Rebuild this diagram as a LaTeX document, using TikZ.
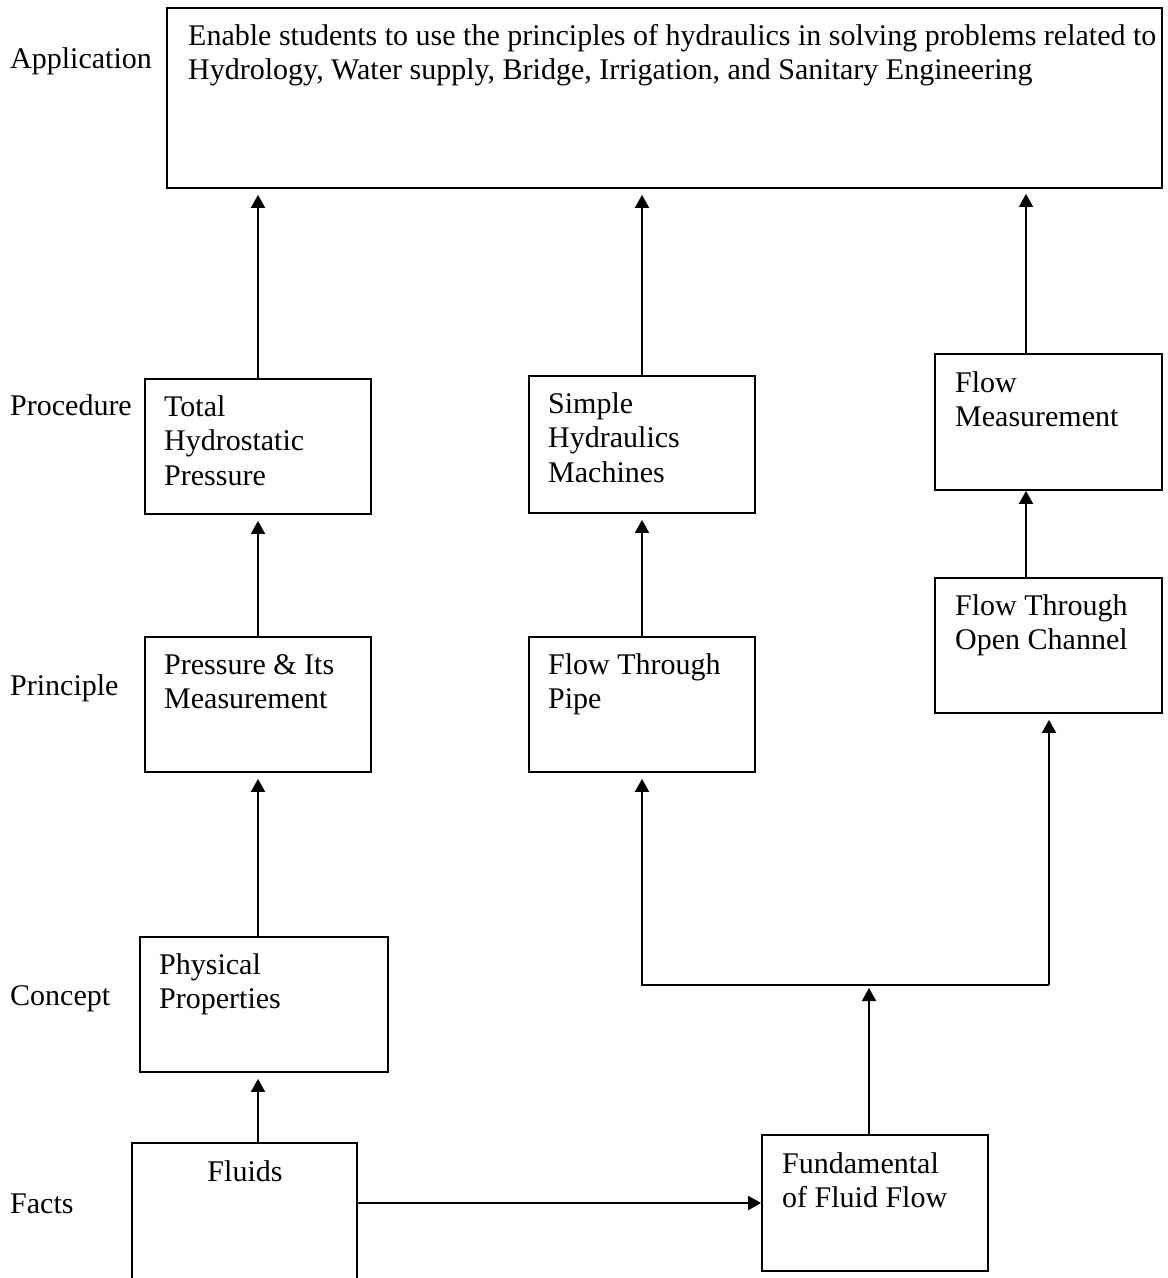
\documentclass[tikz,border=0pt]{standalone}
\usepackage{fontspec}
\setmainfont{Liberation Serif}
\usetikzlibrary{arrows.meta}
\begin{document}
\begin{tikzpicture}[x=1pt,y=-1pt,
  box/.style={draw, line width=1.8pt, inner sep=0pt},
  txt/.style={anchor=base west, inner sep=0pt, font=\fontsize{30}{34.5}\selectfont},
  arr/.style={line width=1.8pt, -{Triangle[length=13pt,width=14pt]}},
  ln/.style={line width=1.8pt}]
\clip (0,0) rectangle (1168,1278);
\fill[white] (0,0) rectangle (1168,1278);
% boxes
\node[box, minimum width=995pt, minimum height=180pt] (app) at (664.5,98) {};
\node[box, minimum width=226pt, minimum height=135pt] (tot) at (258,446.5) {};
\node[box, minimum width=226pt, minimum height=137pt] (shm) at (642,444.5) {};
\node[box, minimum width=227pt, minimum height=136pt] (fm) at (1048.5,422) {};
\node[box, minimum width=226pt, minimum height=135pt] (pim) at (258,704.5) {};
\node[box, minimum width=226pt, minimum height=135pt] (ftp) at (642,704.5) {};
\node[box, minimum width=227pt, minimum height=135pt] (ftoc) at (1048.5,645.5) {};
\node[box, minimum width=248pt, minimum height=135pt] (pp) at (264,1004.5) {};
\node[box, minimum width=225pt, minimum height=157pt] (fl) at (244.5,1221.5) {};
\node[box, minimum width=226pt, minimum height=136pt] (fff) at (875,1203) {};
% texts
\node[txt] (appT) at (188,45) {\begin{tabular}[t]{@{}l@{}}Enable students to use the principles of hydraulics in solving problems related to\\Hydrology, Water supply, Bridge, Irrigation, and Sanitary Engineering\end{tabular}};
\node[txt] (totT) at (164,416) {\begin{tabular}[t]{@{}l@{}}Total\\Hydrostatic\\Pressure\end{tabular}};
\node[txt] (shmT) at (548,413) {\begin{tabular}[t]{@{}l@{}}Simple\\Hydraulics\\Machines\end{tabular}};
\node[txt] (fmT) at (955,392) {\begin{tabular}[t]{@{}l@{}}Flow\\Measurement\end{tabular}};
\node[txt] (pimT) at (164,674) {\begin{tabular}[t]{@{}l@{}}Pressure \& Its\\Measurement\end{tabular}};
\node[txt] (ftpT) at (548,674) {\begin{tabular}[t]{@{}l@{}}Flow Through\\Pipe\end{tabular}};
\node[txt] (ftocT) at (955,615) {\begin{tabular}[t]{@{}l@{}}Flow Through\\Open Channel\end{tabular}};
\node[txt] (ppT) at (159,974) {\begin{tabular}[t]{@{}l@{}}Physical\\Properties\end{tabular}};
\node[txt, anchor=base] (flT) at (245,1181) {Fluids};
\node[txt] (fffT) at (782,1173) {\begin{tabular}[t]{@{}l@{}}Fundamental\\of Fluid Flow\end{tabular}};
% level labels
\node[txt] (lApp) at (10,68) {Application};
\node[txt] (lPro) at (10,415) {Procedure};
\node[txt] (lPri) at (10,695) {Principle};
\node[txt] (lCon) at (10,1005) {Concept};
\node[txt] (lFac) at (10,1213) {Facts};
% connectors
\draw[arr, shorten >=6pt] (tot.north) -- (tot.north |- app.south);
\draw[arr, shorten >=6pt] (shm.north) -- (shm.north |- app.south);
\draw[arr, shorten >=5pt] ([xshift=-22.5pt]fm.north) -- ([xshift=-22.5pt]fm.north |- app.south);
\draw[arr, shorten >=6pt] (pim.north) -- (pim.north |- tot.south);
\draw[arr, shorten >=6pt] (ftp.north) -- (ftp.north |- shm.south);
\draw[arr] ([xshift=-22.5pt]ftoc.north) -- ([xshift=-22.5pt]ftoc.north |- fm.south);
\draw[arr, shorten >=6pt] (pim.south |- pp.north) -- (pim.south);
\draw[arr, shorten >=6pt] (pim.south |- fl.north) -- (pim.south |- pp.south);
\draw[arr] (fl.east |- fff.west) -- (fff.west);
\coordinate (jn) at (869,985);
\coordinate (jl) at (642,985);
\coordinate (jr) at (1049,985);
\draw[arr, shorten >=3pt] ([xshift=-6pt]fff.north) -- (jn);
\draw[arr, shorten >=6pt] (jr) -- (jl) -- (ftp.south);
\draw[arr, shorten >=6pt] (jr) -- (jr |- ftoc.south);
\end{tikzpicture}
\end{document}
